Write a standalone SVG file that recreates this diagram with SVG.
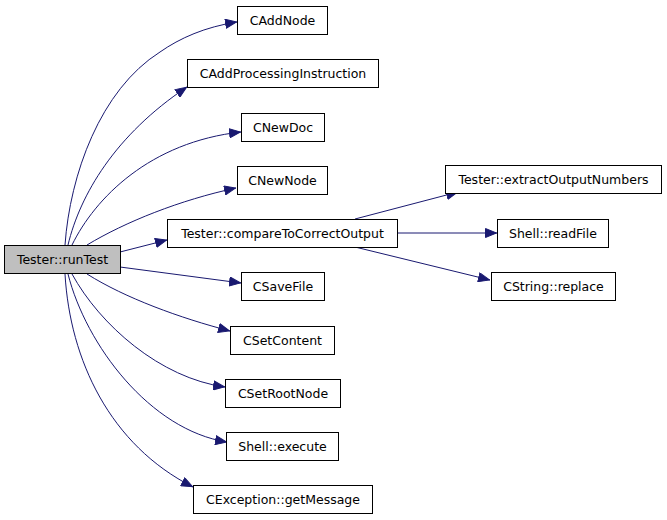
<svg xmlns="http://www.w3.org/2000/svg" width="667" height="520" viewBox="0 0 667 520">
<style>
.n rect{fill:#ffffff;stroke:#000000;stroke-width:1}
.n text{font-family:"DejaVu Sans",sans-serif;font-size:12.5px;text-anchor:middle;fill:#000000}
.e path{fill:none;stroke:#191970;stroke-width:1}
</style>
<defs>
<marker id="a" viewBox="0 0 12 10" refX="12" refY="5" markerWidth="12" markerHeight="10" markerUnits="userSpaceOnUse" orient="auto">
<path d="M0.5,0.5 L11.5,5 L0.5,9.5 Z" fill="#191970" stroke="#191970"/>
</marker>
</defs>
<rect width="667" height="520" fill="#ffffff"/>
<g class="e" id="edges">
<path marker-end="url(#a)" d="M65,245 C70,175 100,90 160,52 C180,38 205,27 237,22"/>
<path marker-end="url(#a)" d="M68,245 C80,195 115,135 187,87"/>
<path marker-end="url(#a)" d="M72,245 C95,198 150,142 241,132"/>
<path marker-end="url(#a)" d="M87,245 C125,222 180,200 236,188"/>
<path marker-end="url(#a)" d="M120,252 L167,240"/>
<path marker-end="url(#a)" d="M120,267 L241,283"/>
<path marker-end="url(#a)" d="M87,274 C125,298 180,318 230,331"/>
<path marker-end="url(#a)" d="M72,274 C100,325 160,378 225,387"/>
<path marker-end="url(#a)" d="M68,274 C86,345 150,430 227,442"/>
<path marker-end="url(#a)" d="M65,274 C70,360 110,445 193,487"/>
<path marker-end="url(#a)" d="M355,219 L458,192"/>
<path marker-end="url(#a)" d="M397,233 L497,233"/>
<path marker-end="url(#a)" d="M355,247 L490,280"/>
</g>
<g class="n" id="runTest"><rect x="4.5" y="245.5" width="116" height="28" style="fill:#bfbfbf"/><text x="62.5" y="264">Tester::runTest</text></g>
<g class="n" id="CAddNode"><rect x="237.5" y="6.5" width="90" height="28"/><text x="282.5" y="25">CAddNode</text></g>
<g class="n" id="CAddProcessingInstruction"><rect x="187.5" y="59.5" width="191" height="28"/><text x="283" y="78">CAddProcessingInstruction</text></g>
<g class="n" id="CNewDoc"><rect x="241.5" y="113.5" width="83" height="28"/><text x="283" y="132">CNewDoc</text></g>
<g class="n" id="CNewNode"><rect x="237.5" y="166.5" width="90" height="28"/><text x="282.5" y="185">CNewNode</text></g>
<g class="n" id="compareToCorrectOutput"><rect x="167.5" y="219.5" width="230" height="28"/><text x="282.5" y="238">Tester::compareToCorrectOutput</text></g>
<g class="n" id="CSaveFile"><rect x="241.5" y="272.5" width="83" height="28"/><text x="283" y="291">CSaveFile</text></g>
<g class="n" id="CSetContent"><rect x="230.5" y="326.5" width="104" height="28"/><text x="282.5" y="345">CSetContent</text></g>
<g class="n" id="CSetRootNode"><rect x="225.5" y="379.5" width="115" height="28"/><text x="283" y="398">CSetRootNode</text></g>
<g class="n" id="execute"><rect x="226.5" y="432.5" width="112" height="28"/><text x="282.5" y="451">Shell::execute</text></g>
<g class="n" id="getMessage"><rect x="193.5" y="485.5" width="179" height="28"/><text x="283" y="504">CException::getMessage</text></g>
<g class="n" id="extractOutputNumbers"><rect x="445.5" y="165.5" width="216" height="28"/><text x="553.5" y="184">Tester::extractOutputNumbers</text></g>
<g class="n" id="readFile"><rect x="497.5" y="219.5" width="111" height="28"/><text x="553" y="238">Shell::readFile</text></g>
<g class="n" id="replace"><rect x="491.5" y="272.5" width="124" height="28"/><text x="553.5" y="291">CString::replace</text></g>
</svg>
